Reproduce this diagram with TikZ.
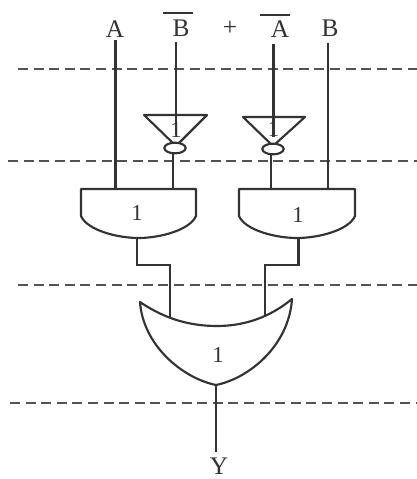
\documentclass[tikz,border=0pt]{standalone}
\usepackage{fontspec}
\setmainfont{Liberation Serif}
\definecolor{ink}{gray}{0.2}
\tikzset{
  wire/.style={draw=ink,line width=1.8pt},
  gate/.style={draw=ink,line width=1.6pt,line join=round},
  level/.style={draw=ink!85,line width=1.7pt,dash pattern=on 7.5pt off 4.2pt},
  sig/.style={text=ink,font=\fontsize{19}{20}\selectfont,inner sep=0pt},
  num/.style={text=ink,font=\fontsize{17}{18}\selectfont,inner sep=0pt},
  bubble/.style={draw=ink,line width=1.6pt,ellipse,minimum width=16pt,minimum height=8pt,inner sep=0pt,fill=white}
}
\usetikzlibrary{shapes.geometric}
\begin{document}
\begin{tikzpicture}[x=0.75pt,y=-0.75pt]
\useasboundingbox (0,0) rectangle (417,479);
\fill[white] (0,0) rectangle (417,479);
% level lines
\draw[level] (18,69) -- (417,69);
\draw[level] (8,161) -- (417,161);
\draw[level] (18,285) -- (417,285);
\draw[level] (10,403) -- (417,403);
% labels
\node[sig] (a) at (115,29) {A};
\node[sig] (nb) at (181,28) {B};
\node[sig] (plus) at (230,28) {+};
\node[sig] (na) at (280,29) {A};
\node[sig] (b) at (330,28) {B};
\node[sig] (y) at (219,466) {Y};
\coordinate (bl) at (163,13); \coordinate (br) at (193,13);
\coordinate (al) at (260,15); \coordinate (ar) at (290,15);
\draw[wire] (bl) -- (br);
\draw[wire] (al) -- (ar);
% free ends and gate pins
\coordinate (ain) at (115.5,40);
\coordinate (nbin) at (176,42);
\coordinate (nain) at (273.5,44);
\coordinate (bin) at (328,43);
\coordinate (inv1t) at (176,135);
\coordinate (inv2t) at (273.5,137);
\coordinate (and1a) at (115.5,189);
\coordinate (and1b) at (173,189);
\coordinate (and2a) at (271,189);
\coordinate (and2b) at (328,189);
\coordinate (and1o) at (137,238);
\coordinate (and2o) at (298.5,238);
\coordinate (or1) at (170,317);
\coordinate (or2) at (265,315);
\coordinate (oro) at (216,385);
\coordinate (yin) at (216,452);
% wires
\draw[wire] (ain) -- (and1a);
\draw[wire] (nbin) -- (inv1t);
\draw[wire] (nain) -- (inv2t);
\draw[wire] (bin) -- (and2b);
\draw[wire] (and1o) -- ++(0,27) -| (or1);
\draw[wire] (and2o) -- ++(0,27) -| (or2);
\draw[wire] (oro) -- (yin);
% inverters
\draw[gate] (144,115) -- (207,115) -- (176,146) -- cycle;
\draw[gate] (243,117) -- (305,117) -- (273,146) -- cycle;
\node[num] (n1) at (176,130) {1};
\node[num] (n2) at (273.5,129) {1};
\draw[wire] (173,150) -- (and1b);
\draw[wire] (271,150) -- (and2a);
\node[bubble] (b1) at (175,148) {};
\node[bubble] (b2) at (273,149) {};
% AND gates
\draw[gate,fill=white] (81,189) -- (196,189) -- (196,216) .. controls (190,230) and (160,238) .. (138.5,238) .. controls (117,238) and (87,230) .. (81,216) -- cycle;
\draw[gate,fill=white] (239,189) -- (355,189) -- (355,216) .. controls (349,230) and (319,238) .. (297,238) .. controls (275,238) and (245,230) .. (239,216) -- cycle;
\node[num] (n3) at (137,213) {1};
\node[num] (n4) at (298,215) {1};
% OR gate
\draw[gate,fill=white] (140,302) .. controls (165,319) and (190,326) .. (217,326) .. controls (245,326) and (270,317) .. (292,299) .. controls (289,345) and (250,378) .. (216,385) .. controls (182,378) and (143,345) .. (140,302) -- cycle;
\node[num] (n5) at (218,355) {1};
\end{tikzpicture}
\end{document}
